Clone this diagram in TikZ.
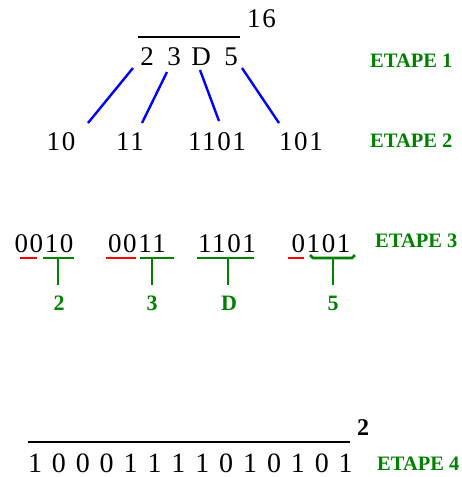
\documentclass[tikz,border=0pt]{standalone}
\usepackage{fontspec}
\setmainfont{Liberation Serif}
\newfontfamily\chiffres[LetterSpace=6]{Liberation Serif}
\definecolor{vert}{RGB}{0,128,0}

\tikzset{
  chiffre/.style={anchor=base, inner sep=0pt, font=\chiffres\fontsize{27}{27}\selectfont},
  etape/.style={anchor=base west, inner sep=0pt, text=vert, font=\bfseries\fontsize{20.5}{20.5}\selectfont},
  valeur/.style={anchor=base, inner sep=0pt, text=vert, font=\bfseries\fontsize{22}{22}\selectfont},
  lien/.style={blue, line width=2.4pt},
  barre/.style={line width=2.6pt},
}

\begin{document}
\begin{tikzpicture}[x=1pt, y=-1pt]
  \useasboundingbox (0,0) rectangle (461,477);

  % ETAPE 1 : le nombre hexadecimal
  \node[chiffre] (h1) at (147,65) {2};
  \node[chiffre] (h2) at (174,65) {3};
  \node[chiffre] (h3) at (201,65) {D};
  \node[chiffre] (h4) at (231,65) {5};
  \node[chiffre, anchor=base west] (base16) at (247,27) {16};
  \draw[line width=1.8pt] (138,37) -- (240,37);
  \node[etape] (e1) at (370,67) {ETAPE 1};

  % ETAPE 2 : chaque chiffre en binaire
  \node[chiffre] (b1) at (61,150) {10};
  \node[chiffre] (b2) at (130,150) {11};
  \node[chiffre] (b3) at (217,150) {1101};
  \node[chiffre] (b4) at (301,150) {101};
  \node[etape] (e2) at (370,147) {ETAPE 2};

  % liens bleus
  \coordinate (l1a) at (133,68);  \coordinate (l1b) at (88,123);
  \coordinate (l2a) at (167,72);  \coordinate (l2b) at (142,123);
  \coordinate (l3a) at (200,70);  \coordinate (l3b) at (219,121);
  \coordinate (l4a) at (242,68);  \coordinate (l4b) at (279,123);
  \draw[lien] (l1a) -- (l1b);
  \draw[lien] (l2a) -- (l2b);
  \draw[lien] (l3a) -- (l3b);
  \draw[lien] (l4a) -- (l4b);

  % ETAPE 3 : groupes de 4 bits
  \node[chiffre] (q1) at (44,252) {0010};
  \node[chiffre] (q2) at (137,252) {0011};
  \node[chiffre] (q3) at (227,252) {1101};
  \node[chiffre] (q4) at (321,252) {0101};
  \node[etape] (e3) at (375,247) {ETAPE 3};

  % zeros ajoutes (rouge)
  \draw[barre, red] (20,258) -- (37,258);
  \draw[barre, red] (106,258) -- (136,258);
  \draw[barre, red] (288,258) -- (304,258);

  % bits d'origine (vert)
  \draw[barre, vert] (43,258) -- (74,258);
  \draw[barre, vert] (140,258) -- (174,258);
  \draw[barre, vert] (197,258) -- (254,258);
  \draw[barre, vert] (310,255) -- (313,258) -- (352,258) -- (355,255);

  % valeurs hexadecimales
  \node[valeur] (v1) at (59,310) {2};
  \node[valeur] (v2) at (152,310) {3};
  \node[valeur] (v3) at (229,310) {D};
  \node[valeur] (v4) at (333,310) {5};
  \foreach \x/\v in {58/v1, 152/v2, 228/v3, 333/v4}
    \draw[barre, vert] (\x,258) -- (\x,285);

  % ETAPE 4 : le resultat en binaire
  \foreach \c [count=\i] in {1,0,0,0,1,1,1,1,0,1,0,1,0,1}
    \node[anchor=base, inner sep=0pt, font=\fontsize{28}{28}\selectfont] (r\i) at ({35+23.9*(\i-1)},472) {\c};
  \draw[line width=2.2pt] (28,442) -- (350,442);
  \node[anchor=base west, inner sep=0pt, font=\bfseries\fontsize{24}{24}\selectfont] (base2) at (357,435) {2};
  \node[etape] (e4) at (377,470) {ETAPE 4};
\end{tikzpicture}
\end{document}
